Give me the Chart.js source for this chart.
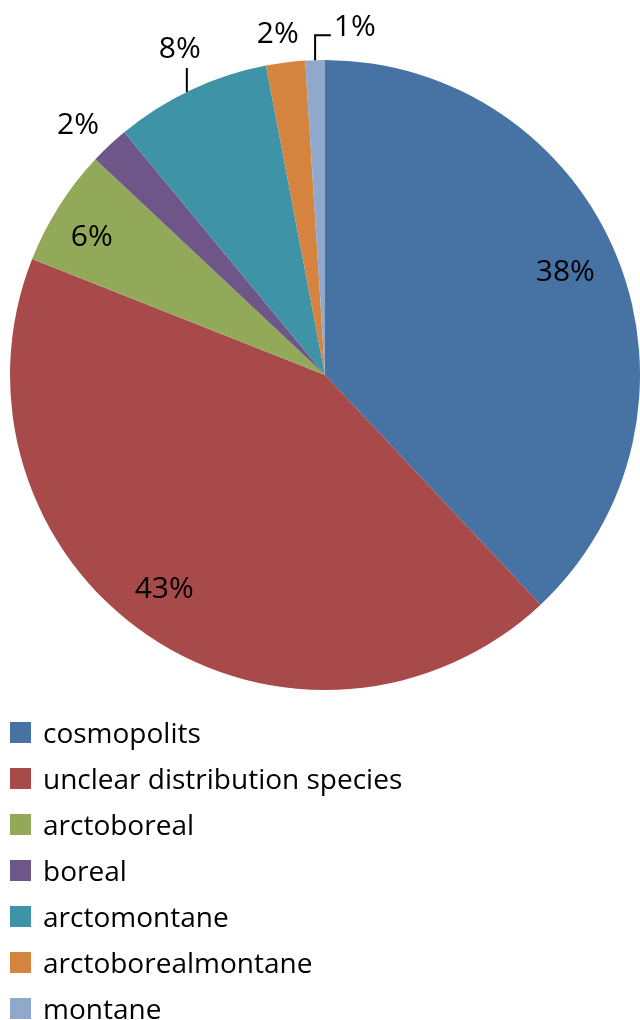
<!DOCTYPE html>
<html>
<head>
<meta charset="utf-8">
<script src="https://cdn.jsdelivr.net/npm/chart.js@4/dist/chart.umd.min.js"></script>
<style>
  html, body { margin: 0; padding: 0; background: #fff; }
  #wrap { position: relative; width: 640px; height: 1020px; overflow: hidden; }
  #wrap canvas { position: absolute; left: 0; top: 0; }
  #legend { position: absolute; left: 10px; top: 709px; font-family: "Open Sans", sans-serif; font-size: 28px; color: #000; }
  #legend .item { display: flex; align-items: center; height: 46px; line-height: 46px; white-space: nowrap; }
  #legend .box { width: 21px; height: 21px; margin-right: 12px; flex: none; }
</style>
</head>
<body>
<div id="wrap">
  <canvas id="chart" width="640" height="1020"></canvas>
  <div id="legend"></div>
</div>
<script>
// Share of species by distribution type (%)
const categories = [
  "cosmopolits",
  "unclear distribution species",
  "arctoboreal",
  "boreal",
  "arctomontane",
  "arctoborealmontane",
  "montane"
];
const shares = [38, 43, 6, 2, 8, 2, 1];
const colors = ["#4672A4", "#A84A4A", "#93A95A", "#6E5689", "#3F93A7", "#D5843F", "#91A8CD"];

// Label placement per slice: radius factor, angular shift (deg), leader line type
const labelPlace = [
  { r: 0.83, da: -1.6 },
  { r: 0.85, da: 2.7 },
  { r: 0.86, da: -1.8 },
  { r: 1.115, da: -1.5 },
  { r: 1.133, da: 1.2, leader: "vertical", lx: 7 },
  { r: 1.09, da: -0.7 },
  { r: 1.108, da: 6.7, leader: "elbow" }
];

const percentLabels = {
  id: "percentLabels",
  afterDatasetsDraw(chart) {
    const ctx = chart.ctx;
    const meta = chart.getDatasetMeta(0);
    const data = chart.data.datasets[0].data;
    const total = data.reduce((a, b) => a + b, 0);
    ctx.save();
    ctx.font = '30px "Open Sans", sans-serif';
    ctx.fillStyle = "#000";
    ctx.textAlign = "center";
    ctx.textBaseline = "middle";
    ctx.strokeStyle = "#000";
    ctx.lineWidth = 2;
    meta.data.forEach((arc, i) => {
      const p = arc.getProps(["x", "y", "startAngle", "endAngle", "outerRadius"], true);
      const place = labelPlace[i];
      const mid = (p.startAngle + p.endAngle) / 2 + place.da * Math.PI / 180;
      const tx = p.x + Math.cos(mid) * p.outerRadius * place.r;
      const ty = p.y + Math.sin(mid) * p.outerRadius * place.r;
      const text = Math.round(data[i] / total * 100) + "%";
      ctx.fillText(text, tx, ty);
      if (place.leader === "vertical") {
        const lx = tx + place.lx;
        const edgeY = p.y - Math.sqrt(p.outerRadius * p.outerRadius - (lx - p.x) * (lx - p.x));
        ctx.beginPath();
        ctx.moveTo(lx, ty + 19);
        ctx.lineTo(lx, edgeY);
        ctx.stroke();
      } else if (place.leader === "elbow") {
        const ma = (p.startAngle + p.endAngle) / 2;
        const ex = p.x + Math.cos(ma) * p.outerRadius;
        const ey = p.y + Math.sin(ma) * p.outerRadius;
        const w = ctx.measureText(text).width;
        ctx.beginPath();
        ctx.moveTo(ex, ey);
        ctx.lineTo(ex, ty + 8);
        ctx.lineTo(tx - w / 2 - 3, ty + 8);
        ctx.stroke();
      }
    });
    ctx.restore();
  }
};

new Chart(document.getElementById("chart"), {
  type: "pie",
  data: {
    labels: categories,
    datasets: [{
      data: shares,
      backgroundColor: colors,
      borderWidth: 0
    }]
  },
  options: {
    responsive: false,
    animation: false,
    layout: { padding: { left: 10, right: 0, top: 60, bottom: 330 } },
    plugins: {
      legend: { display: false },
      tooltip: { enabled: false }
    }
  },
  plugins: [percentLabels]
});

// Legend list beneath the pie
const legend = document.getElementById("legend");
categories.forEach((name, i) => {
  const item = document.createElement("div");
  item.className = "item";
  const box = document.createElement("span");
  box.className = "box";
  box.style.background = colors[i];
  const label = document.createElement("span");
  label.textContent = name;
  item.appendChild(box);
  item.appendChild(label);
  legend.appendChild(item);
});
</script>
</body>
</html>
